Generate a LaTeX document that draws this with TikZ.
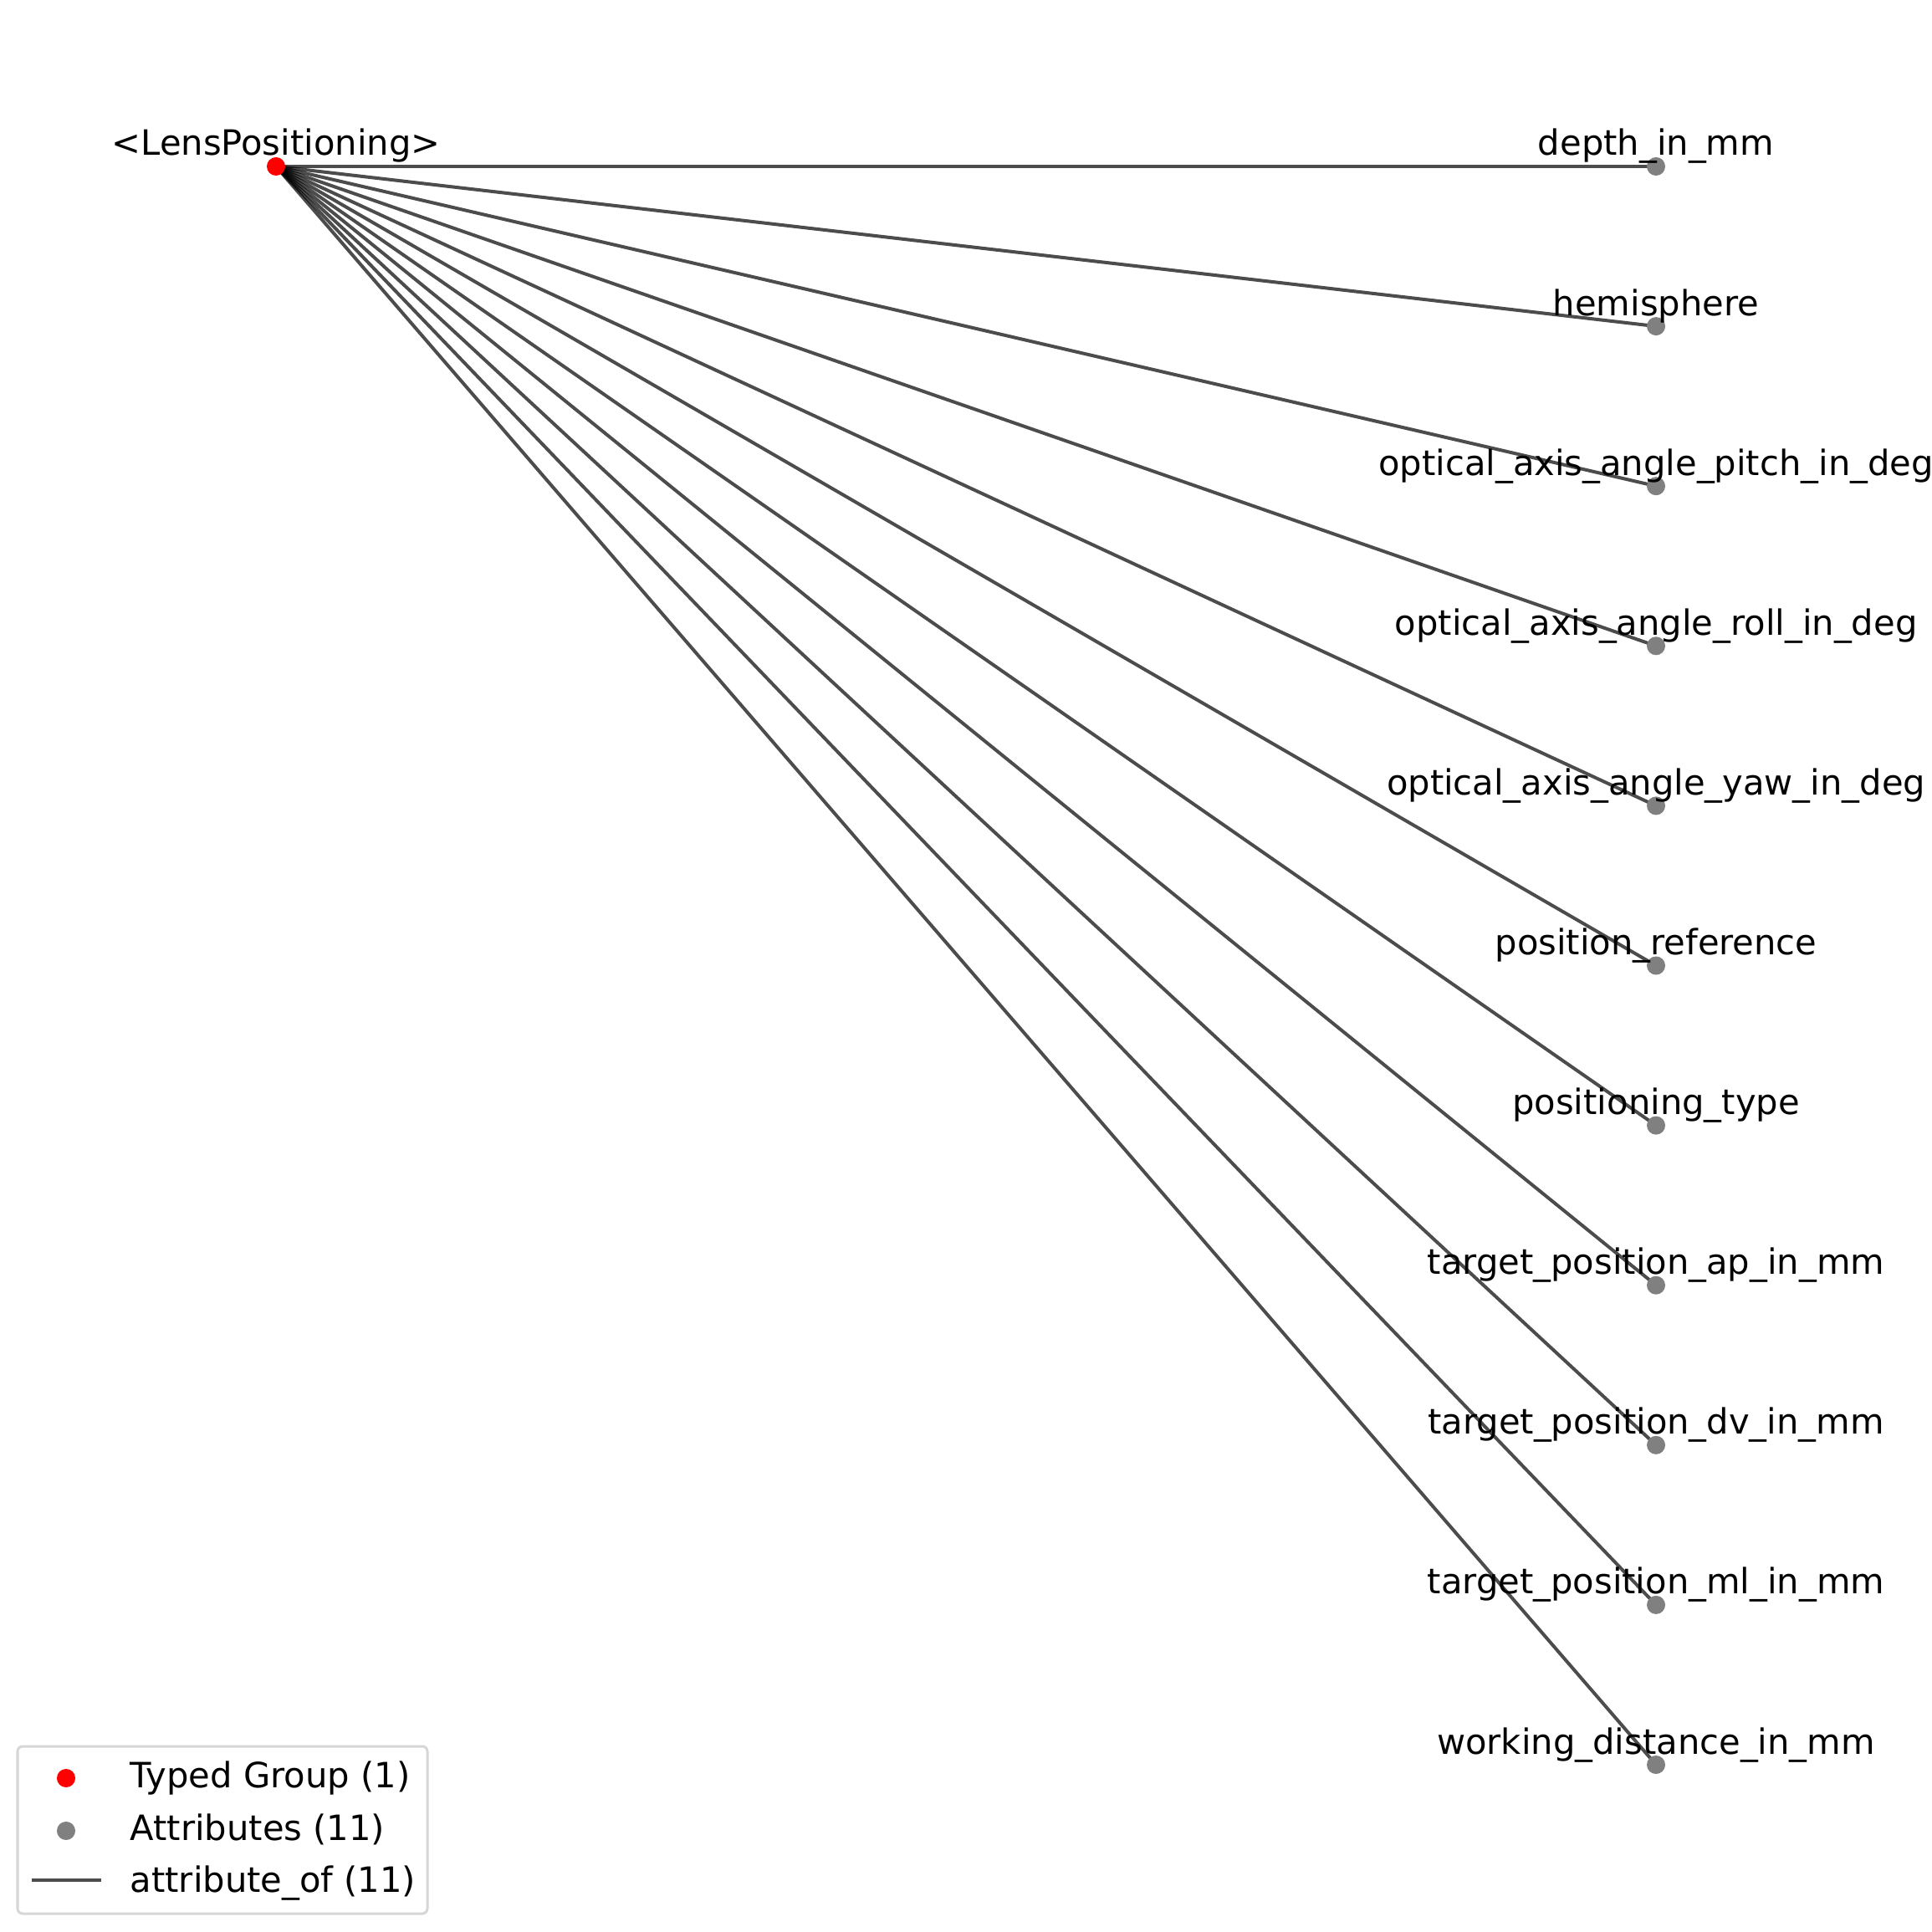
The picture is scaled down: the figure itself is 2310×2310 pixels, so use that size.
\documentclass[tikz,border=0pt]{standalone}
\usepackage{fontspec}
\setmainfont{DejaVu Sans}
\usetikzlibrary{positioning,backgrounds}

\begin{document}
\begin{tikzpicture}[x=0.01cm,y=-0.01cm,
  every node/.style={font=\fontsize{11.85}{14}\selectfont},
  dot/.style={circle,inner sep=0pt,minimum size=0.22cm},
  grp/.style={dot,fill=red},
  attr/.style={dot,fill=gray},
  lbl/.style={anchor=base,inner sep=0pt},
  keytxt/.style={anchor=base west,inner sep=0pt},
  edge/.style={draw=black,draw opacity=0.7,line width=0.04cm}]
\useasboundingbox (0,0) rectangle (2310,2310);
% typed group
\node[grp] (grp) at (330,199) {};
\node[lbl] (grplbl) at ([yshift=0.13cm]grp.center) {<LensPositioning>};
% attributes
\foreach \name [count=\i] in {depth\_in\_mm,hemisphere,optical\_axis\_angle\_pitch\_in\_deg,
  optical\_axis\_angle\_roll\_in\_deg,optical\_axis\_angle\_yaw\_in\_deg,position\_reference,
  positioning\_type,target\_position\_ap\_in\_mm,target\_position\_dv\_in\_mm,
  target\_position\_ml\_in\_mm,working\_distance\_in\_mm} {
  \node[attr] (a\i) at (1980,{199+191.1*(\i-1)}) {};
  \node[lbl] (l\i) at ([yshift=0.13cm]a\i.center) {\name};
  \begin{scope}[on background layer]
    \draw[edge] (grp.center) -- (a\i.center);
  \end{scope}
}
% legend
\draw[rounded corners=0.06cm,draw=black!16,line width=0.03cm,fill=white] (21,2088) rectangle (511,2288);
\node[grp] (keygrp) at (79,2126) {};
\node[attr] (keyattr) at (79,2189) {};
\coordinate (keyl) at (38,2248);
\coordinate (keyr) at (121,2248);
\draw[edge] (keyl) -- (keyr);
\node[keytxt] (keygrptxt) at (155,2137) {Typed Group (1)};
\node[keytxt] (keyattrtxt) at (155,2200) {Attributes (11)};
\node[keytxt] (keyedgetxt) at (155,2262) {attribute\_of (11)};
\end{tikzpicture}
\end{document}
